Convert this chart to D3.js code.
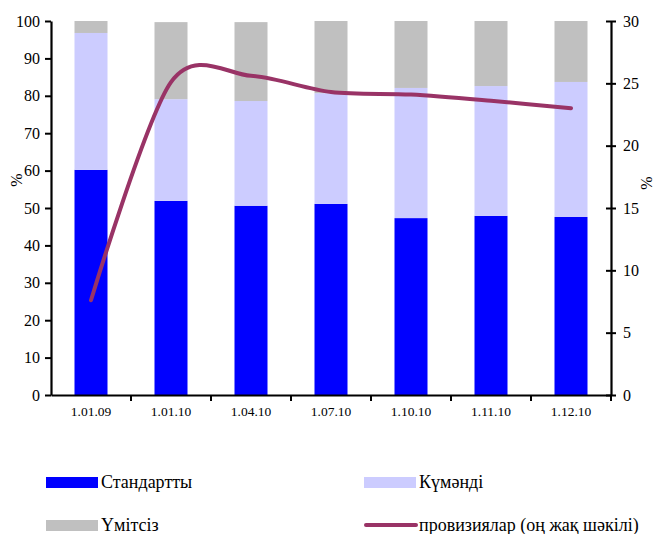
<!DOCTYPE html>
<html>
<head>
<meta charset="utf-8">
<script src="https://cdn.jsdelivr.net/npm/d3@7/dist/d3.min.js"></script>
<style>
  html, body { margin: 0; padding: 0; background: #fff; }
  svg { display: block; }
  text { font-family: "Liberation Serif", "Times New Roman", "DejaVu Serif", serif; fill: #000; }
</style>
</head>
<body>
<svg id="chart" width="656" height="534"></svg>
<script>
// ---- data ----
const categories = ["1.01.09", "1.01.10", "1.04.10", "1.07.10", "1.10.10", "1.11.10", "1.12.10"];
const standard   = [60.2, 51.9, 50.6, 51.1, 47.3, 47.9, 47.6];   // Стандартты
const doubtful   = [36.6, 27.2, 28.0, 29.6, 34.8, 34.7, 36.1];   // Күмәнді
const hopeless   = [3.2, 20.6, 21.1, 19.3, 17.9, 17.4, 16.3];    // Үмітсіз
const provisions = [7.6, 25.1, 25.6, 24.3, 24.1, 23.6, 23.0];    // провизиялар (right axis)
const leftTicks  = [0, 10, 20, 30, 40, 50, 60, 70, 80, 90, 100];
const rightTicks = [0, 5, 10, 15, 20, 25, 30];
const seriesNames = ["Стандартты", "Күмәнді", "Үмітсіз", "провизиялар (оң жақ шәкілі)"];
const colors = ["#0000FF", "#CCCCFF", "#C0C0C0", "#993366"];

// ---- layout ----
const svg = d3.select("#chart");
const L = 51, R = 611, T = 21, B = 395;

const x = d3.scaleBand().domain(categories).range([L, R]).padding(0);
const barFrac = 0.4125;
const barW = x.bandwidth() * barFrac;
const y = d3.scaleLinear().domain([0, 100]).range([B, T]);
const y2 = d3.scaleLinear().domain([0, 30]).range([B, T]);

// ---- stacked bars ----
const rows = categories.map((c, i) => ({ cat: c, s: standard[i], d: doubtful[i], h: hopeless[i] }));
const stack = d3.stack().keys(["s", "d", "h"])(rows);
svg.append("g").selectAll("g").data(stack).join("g")
  .attr("fill", (d, i) => colors[i])
  .selectAll("rect").data(d => d).join("rect")
  .attr("x", d => x(d.data.cat) + (x.bandwidth() - barW) / 2)
  .attr("width", barW)
  .attr("y", d => y(d[1]))
  .attr("height", d => y(d[0]) - y(d[1]));

// ---- line ----
const line = d3.line()
  .x((d, i) => x(categories[i]) + x.bandwidth() / 2)
  .y(d => y2(d))
  .curve(d3.curveCardinal.tension(0.1));
svg.append("path").datum(provisions)
  .attr("d", line)
  .attr("fill", "none")
  .attr("stroke", colors[3])
  .attr("stroke-width", 4)
  .attr("stroke-linecap", "round")
  .attr("stroke-linejoin", "round");

// ---- axes ----
const axL = svg.append("g").attr("transform", `translate(${L},0)`)
  .call(d3.axisLeft(y).tickValues(leftTicks).tickSize(6).tickSizeOuter(0).tickPadding(5));
const axR = svg.append("g").attr("transform", `translate(${R},0)`)
  .call(d3.axisRight(y2).tickValues(rightTicks).tickSize(6).tickSizeOuter(0).tickPadding(6));
// cross ticks on the right axis
axR.selectAll(".tick line").attr("x1", -5).attr("x2", 5);

const axB = svg.append("g").attr("transform", `translate(0,${B})`)
  .call(d3.axisBottom(x).tickSize(0).tickSizeOuter(0).tickPadding(11));
// tick marks at band boundaries
axB.selectAll(".boundary").data(categories.slice(1).concat(["__end"])).join("line")
  .attr("class", "boundary")
  .attr("x1", c => c === "__end" ? R : x(c))
  .attr("x2", c => c === "__end" ? R : x(c))
  .attr("y1", 0).attr("y2", 6)
  .attr("stroke", "#000").attr("stroke-width", 2);

[axL, axR, axB].forEach(a => {
  a.select(".domain").attr("stroke", "#000").attr("stroke-width", 2.2);
  a.selectAll(".tick line").attr("stroke", "#000").attr("stroke-width", 2);
  a.selectAll("text").attr("fill", "#000");
});
axL.selectAll("text").attr("font-size", 16);
axR.selectAll("text").attr("font-size", 16);
axB.selectAll("text").attr("font-size", 13.5);

// axis titles
svg.append("text").attr("transform", "translate(22,180) rotate(-90)")
  .attr("text-anchor", "middle").attr("font-size", 16).text("%");
svg.append("text").attr("transform", "translate(652,183) rotate(-90)")
  .attr("text-anchor", "middle").attr("font-size", 16).text("%");

// ---- legend ----
const legendPos = [
  { x: 46, y: 482 }, { x: 364, y: 482 }, { x: 46, y: 525 }, { x: 364, y: 525 }
];
const lg = svg.append("g").selectAll("g").data(seriesNames).join("g")
  .attr("transform", (d, i) => `translate(${legendPos[i].x},${legendPos[i].y})`);
lg.filter((d, i) => i < 3).append("rect")
  .attr("x", 0).attr("y", -5).attr("width", 52).attr("height", 11)
  .attr("fill", (d, i) => colors[i]);
lg.filter((d, i) => i === 3).append("line")
  .attr("x1", 2).attr("x2", 52).attr("y1", 0).attr("y2", 0)
  .attr("stroke", colors[3]).attr("stroke-width", 4).attr("stroke-linecap", "round");
lg.append("text").attr("x", 55).attr("y", 6).attr("font-size", 18).text(d => d);
</script>
</body>
</html>
